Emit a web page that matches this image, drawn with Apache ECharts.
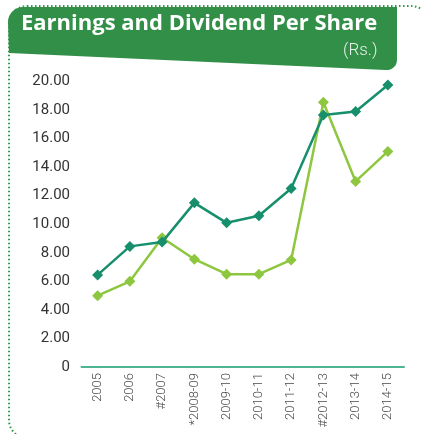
<!DOCTYPE html>
<html><head><meta charset="utf-8">
<script src="https://cdn.jsdelivr.net/npm/echarts@6/dist/echarts.min.js"></script>
<style>html,body{margin:0;padding:0;background:#fff}#c{width:421px;height:434px}</style>
</head><body><div id="c"></div>
<script>
const categories = ['2005','2006','#2007','*2008-09','2009-10','2010-11','2011-12','#2012-13','2013-14','2014-15'];
const earningsPerShare = [6.45, 8.45, 8.75, 11.5, 10.1, 10.6, 12.5, 17.65, 17.9, 19.75];
const dividendPerShare = [5.0, 6.0, 9.05, 7.55, 6.5, 6.5, 7.5, 18.55, 13.0, 15.1];
const yTicks = [0, 2, 4, 6, 8, 10, 12, 14, 16, 18, 20];

// header banner outline (decoration)
function arcPts(cx, cy, r, a0, a1, n) {
  const p = [];
  for (let i = 0; i <= n; i++) {
    const a = a0 + (a1 - a0) * i / n;
    p.push([cx + r * Math.cos(a), cy + r * Math.sin(a)]);
  }
  return p;
}
const bannerPts = [].concat(
  arcPts(23, 22, 15, Math.PI, 1.5 * Math.PI, 8),
  [[397, 7]],
  arcPts(387, 60, 10, 0, 0.55 * Math.PI, 6),
  [[9, 53]]
);

const chart = echarts.init(document.getElementById('c'), null, {renderer: 'canvas'});
chart.setOption({
  animation: false,
  grid: {left: 81.5, right: 17, top: 81.5, bottom: 67, containLabel: false},
  graphic: [
    {type: 'rect', shape: {x: 9, y: 6, width: 420, height: 432, r: 18},
     style: {fill: 'none', stroke: '#2f9a48', lineWidth: 2, lineDash: [1.5, 2.5]}, z: 1},
    {type: 'polygon', shape: {points: bannerPts},
     style: {fill: '#318f47'}, z: 2},
    {type: 'text', left: 21, top: 13, z: 3,
     style: {text: 'Earnings and Dividend Per Share', fill: '#ffffff', font: 'bold 22px "Open Sans"'}},
    {type: 'text', left: 343, top: 42, z: 3,
     style: {text: '(Rs.)', fill: '#e8f2ea', font: '300 17px Roboto'}}
  ],
  xAxis: {
    type: 'category', data: categories, boundaryGap: true,
    axisLine: {show: true, lineStyle: {color: '#4db592', width: 2}},
    axisTick: {show: false},
    axisLabel: {rotate: 90, margin: 6, color: '#4a4a4a', fontFamily: 'Roboto', fontWeight: 300, fontSize: 13, interval: 0}
  },
  yAxis: {
    type: 'value', min: 0, max: 20, interval: 2,
    axisLine: {show: false}, axisTick: {show: false}, splitLine: {show: false},
    axisLabel: {margin: 11.5, color: '#333', fontFamily: 'Roboto', fontSize: 15,
      formatter: v => yTicks.includes(v) ? (v === 0 ? '0' : v.toFixed(2)) : ''}
  },
  series: [
    {name: 'Dividend Per Share', type: 'line', data: dividendPerShare, symbol: 'diamond', symbolSize: 11,
     lineStyle: {color: '#8dc63f', width: 2.5}, itemStyle: {color: '#8dc63f'}, z: 3},
    {name: 'Earnings Per Share', type: 'line', data: earningsPerShare, symbol: 'diamond', symbolSize: 11,
     lineStyle: {color: '#178f6c', width: 2.5}, itemStyle: {color: '#178f6c'}, z: 4}
  ]
});
</script></body></html>
